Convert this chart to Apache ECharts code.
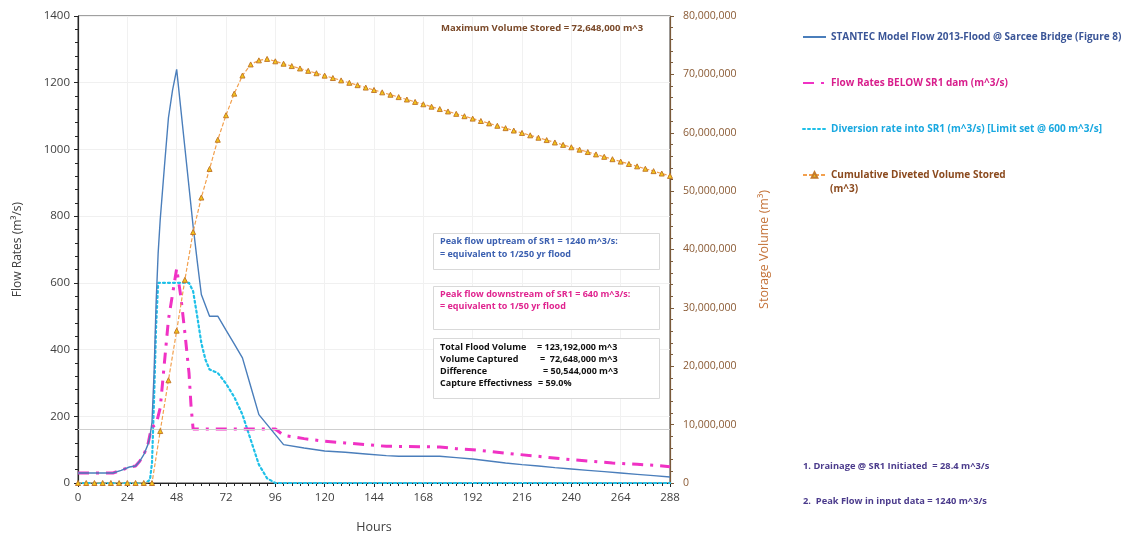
<!DOCTYPE html>
<html>
<head>
<meta charset="utf-8">
<title>SR1 Diversion – 2013 Flood</title>
<script src="https://cdn.jsdelivr.net/npm/echarts@6/dist/echarts.min.js"></script>
<style>
  html, body { margin: 0; padding: 0; background: #ffffff; }
  #chart { width: 1126px; height: 539px; }
</style>
</head>
<body>
<div id="chart"></div>
<script>
// ---- Flow rates (m^3/s), as [hour, value] pairs ----
const upstreamFlow = [
  [0, 30], [4, 30], [8, 30], [12, 30], [17, 30], [21, 38], [25, 48], [28, 51], [30, 65], [32, 85],
  [34, 115], [35, 140], [36, 182], [37, 330], [38, 540], [39, 690], [40, 790], [42, 945],
  [44, 1095], [46, 1178], [48, 1240], [52, 1005], [56, 770], [58, 665], [60, 565], [64, 500],
  [68, 500], [72, 458], [76, 417], [80, 375], [84, 290], [88, 205], [94, 160], [100, 115],
  [110, 105], [120, 96], [130, 92], [140, 87], [150, 82], [156, 80], [168, 80], [176, 80],
  [184, 76], [192, 72], [200, 66], [208, 60], [216, 55], [224, 51], [232, 46], [240, 42],
  [248, 38], [256, 34], [264, 30], [272, 26], [280, 22], [288, 18]
];

const belowDamFlow = [
  [0, 30], [4, 30], [8, 30], [12, 30], [17, 30], [21, 38], [25, 48], [28, 51], [30, 65], [32, 85],
  [34, 115], [35, 145], [36, 168], [38, 176], [40, 225], [44, 490], [48, 643], [50, 560],
  [52, 450], [54, 330], [55, 230], [56, 162], [96, 162], [100, 143], [110, 133], [120, 125],
  [130, 120], [140, 115], [150, 110], [166, 109], [176, 108], [184, 103], [192, 100], [200, 95],
  [212, 87], [224, 80], [236, 72], [248, 66], [260, 60], [272, 56], [280, 53], [288, 49]
];

const diversionRate = [
  [0, 0], [33, 0], [35, 10], [36, 60], [37, 250], [38, 470], [39, 600], [54, 600], [56, 575],
  [58, 500], [60, 420], [62, 370], [64, 340], [68, 330], [72, 298], [76, 258], [80, 205],
  [84, 130], [88, 55], [92, 14], [96, 0], [288, 0]
];

// ---- Cumulative diverted volume stored (m^3), every 4 hours ----
const storageHours = [
  0, 4, 8, 12, 16, 20, 24, 28, 32, 36, 40, 44, 48, 52, 56, 60, 64, 68, 72, 76, 80, 84, 88, 92,
  96, 100, 104, 108, 112, 116, 120, 124, 128, 132, 136, 140, 144, 148, 152, 156, 160, 164, 168,
  172, 176, 180, 184, 188, 192, 196, 200, 204, 208, 212, 216, 220, 224, 228, 232, 236, 240, 244,
  248, 252, 256, 260, 264, 268, 272, 276, 280, 284, 288
];
const storedVolume = [
  0, 0, 0, 0, 0, 0, 0, 0, 0, 0,
  8900000, 17600000, 26100000, 34800000, 43000000, 48900000, 53800000, 58800000,
  63000000, 66700000, 69800000, 71700000, 72400000, 72648000,
  72239000, 71830000, 71421000, 71012000, 70603000, 70194000, 69785000, 69376000,
  68967000, 68558000, 68149000, 67740000, 67331000, 66922000, 66513000, 66104000,
  65695000, 65286000, 64877000, 64468000, 64059000, 63650000, 63241000, 62832000,
  62423000, 62014000, 61605000, 61196000, 60787000, 60378000, 59969000, 59560000,
  59151000, 58742000, 58333000, 57924000, 57515000, 57106000, 56697000, 56288000,
  55879000, 55470000, 55061000, 54652000, 54243000, 53834000, 53425000, 53016000,
  52607000
];

// Regulated outflow level held below the dam during diversion
const regulatedOutflow = 162;

// ---- Axis ranges ----
const hourTicks = { min: 0, max: 288, step: 24 };
const flowTicks = { min: 0, max: 1400, step: 200 };
const volumeTicks = { min: 0, max: 80000000, step: 10000000 };

// ---- Names ----
const seriesNames = [
  'STANTEC Model Flow 2013-Flood @ Sarcee Bridge (Figure 8)',
  'Flow Rates BELOW SR1 dam (m^3/s)',
  'Diversion rate into SR1 (m^3/s) [Limit set @ 600 m^3/s]',
  'Cumulative Diveted Volume Stored'
];

const C = {
  blue: '#4a7ebb', magenta: '#f032c4', cyan: '#1fc0e8', orange: '#f2a04e',
  triFill: '#f3c517', triEdge: '#c47a2c', brown: '#8a5a34', brownTitle: '#c4733a'
};
const textFont = '"Open Sans", "DejaVu Sans", sans-serif';
const tickFont = '"Open Sans", "Liberation Sans", sans-serif';

const chart = echarts.init(document.getElementById('chart'), null, { renderer: 'canvas' });

const storageData = storageHours.map((h, i) => [h, storedVolume[i]]);

function txt(x, y, text, color, size) {
  return {
    type: 'text', left: x, top: y, z: 20,
    style: { text: text, fill: color, font: 'bold ' + (size || 9) + 'px ' + textFont }
  };
}
function box(x, y, w, h) {
  return {
    type: 'rect', left: x, top: y, z: 15,
    shape: { width: w, height: h },
    style: { fill: '#ffffff', stroke: '#d9d9d9', lineWidth: 1 }
  };
}

const legendText = { fontFamily: textFont, fontWeight: 'bold', fontSize: 10, lineHeight: 14 };
const noSymbol = { opacity: 0 };

const option = {
  backgroundColor: '#ffffff',
  animation: false,
  grid: {
    left: 78, right: 456, top: 16, bottom: 53,
    show: true, borderColor: '#404040', borderWidth: 1, backgroundColor: 'transparent'
  },
  legend: [
    {
      orient: 'vertical', left: 802, top: 30, padding: 0,
      itemWidth: 23, itemHeight: 14, itemGap: 32,
      data: [
        { name: seriesNames[0], itemStyle: noSymbol, textStyle: { color: '#3a5597' } },
        { name: seriesNames[1], itemStyle: noSymbol, textStyle: { color: '#d81e8c' } },
        { name: seriesNames[2], itemStyle: noSymbol, textStyle: { color: '#19a8e0' } }
      ],
      textStyle: legendText
    },
    {
      orient: 'vertical', left: 802, top: 168, padding: 0, itemWidth: 23, itemHeight: 7,
      data: [{ name: seriesNames[3], textStyle: { color: '#8b4a1e' } }],
      textStyle: legendText
    }
  ],
  xAxis: {
    type: 'value', min: hourTicks.min, max: hourTicks.max, interval: hourTicks.step,
    name: 'Hours', nameLocation: 'middle', nameGap: 38,
    nameTextStyle: { color: '#404040', fontSize: 12.5, fontFamily: tickFont },
    axisLine: { lineStyle: { color: '#262626', width: 1.2 } },
    axisTick: { show: true, inside: false, length: 4, lineStyle: { color: '#262626' } },
    minorTick: { show: true, splitNumber: 6, length: 3, lineStyle: { color: '#262626' } },
    axisLabel: { color: '#404040', fontSize: 11.5, fontFamily: tickFont, margin: 9 },
    splitLine: { show: true, lineStyle: { color: '#f1f1f1', width: 1 } }
  },
  yAxis: [
    {
      type: 'value', min: flowTicks.min, max: flowTicks.max, interval: flowTicks.step,
      name: 'Flow Rates (m\u00b3/s)', nameLocation: 'middle', nameGap: 54, nameRotate: 90,
      nameTextStyle: { color: '#404040', fontSize: 12, fontFamily: tickFont },
      axisLine: { show: true, lineStyle: { color: '#262626', width: 1.2 } },
      axisTick: { show: true, length: 4, lineStyle: { color: '#262626' } },
      minorTick: { show: true, splitNumber: 5, length: 3, lineStyle: { color: '#262626' } },
      axisLabel: {
        color: '#404040', fontSize: 11.5, fontFamily: tickFont, margin: 8,
        formatter: v => String(v)
      },
      splitLine: { show: true, lineStyle: { color: '#f0f0f0', width: 1 } }
    },
    {
      type: 'value', position: 'right',
      min: volumeTicks.min, max: volumeTicks.max, interval: volumeTicks.step,
      name: 'Storage Volume (m\u00b3)', nameLocation: 'middle', nameGap: 88, nameRotate: 90,
      nameTextStyle: { color: C.brownTitle, fontSize: 12.5, fontFamily: tickFont },
      axisLine: { show: true, lineStyle: { color: '#7a5a3a', width: 1.2 } },
      axisTick: { show: true, length: 4, lineStyle: { color: '#7a5a3a' } },
      minorTick: { show: true, splitNumber: 5, length: 3, lineStyle: { color: '#7a5a3a' } },
      axisLabel: {
        color: C.brown, fontSize: 10.5, fontFamily: textFont, margin: 13,
        formatter: v => v.toLocaleString('en-US')
      },
      splitLine: { show: false }
    }
  ],
  series: [
    {
      name: seriesNames[2], type: 'line', yAxisIndex: 0, data: diversionRate,
      symbol: 'none', z: 3,
      lineStyle: { color: C.cyan, width: 2.2, type: [2, 3], cap: 'round' },
      itemStyle: { color: C.cyan }
    },
    {
      name: seriesNames[1], type: 'line', yAxisIndex: 0, data: belowDamFlow,
      symbol: 'none', z: 4,
      lineStyle: { color: C.magenta, width: 3, type: [11, 7, 3, 7] },
      itemStyle: { color: C.magenta }
    },
    {
      name: seriesNames[0], type: 'line', yAxisIndex: 0, data: upstreamFlow,
      symbol: 'none', z: 5,
      lineStyle: { color: C.blue, width: 1.4 },
      itemStyle: { color: C.blue },
      markLine: {
        silent: true, symbol: 'none', label: { show: false },
        lineStyle: { color: '#cfcfcf', type: 'solid', width: 1 },
        data: [{ yAxis: regulatedOutflow }]
      }
    },
    {
      name: seriesNames[3], type: 'line', yAxisIndex: 1, data: storageData,
      symbol: 'triangle', symbolSize: 5, showSymbol: true, z: 6,
      lineStyle: { color: C.orange, width: 1.2, type: [4, 2] },
      itemStyle: { color: C.triFill, borderColor: C.triEdge, borderWidth: 1 }
    }
  ],
  graphic: [
    txt(441, 23, 'Maximum Volume Stored = 72,648,000 m^3', '#7b4a2a', 9.5),

    txt(830, 184, '(m^3)', '#8b4a1e', 10),

    box(433, 233, 226, 36),
    txt(440, 237, 'Peak flow uptream of SR1 = 1240 m^3/s:', '#3a5fb0'),
    txt(440, 250, '= equivalent to 1/250 yr flood', '#3a5fb0'),

    box(433, 286, 226, 43),
    txt(440, 290, 'Peak flow downstream of SR1 = 640 m^3/s:', '#e0248f'),
    txt(440, 302, '= equivalent to 1/50 yr flood', '#e0248f'),

    box(433, 338, 226, 60),
    txt(440, 343, 'Total Flood Volume', '#111111'),
    txt(537, 343, '= 123,192,000 m^3', '#111111'),
    txt(440, 355, 'Volume Captured', '#111111'),
    txt(540, 355, '=  72,648,000 m^3', '#111111'),
    txt(440, 367, 'Difference', '#111111'),
    txt(543, 367, '= 50,544,000 m^3', '#111111'),
    txt(440, 379, 'Capture Effectivness', '#111111'),
    txt(538, 379, '= 59.0%', '#111111'),

    txt(803, 462, '1. Drainage @ SR1 Initiated  = 28.4 m^3/s', '#4b3b8c', 9.3),
    txt(803, 497, '2.  Peak Flow in input data = 1240 m^3/s', '#4b3b8c', 9.3)
  ]
};

chart.setOption(option);
</script>
</body>
</html>
